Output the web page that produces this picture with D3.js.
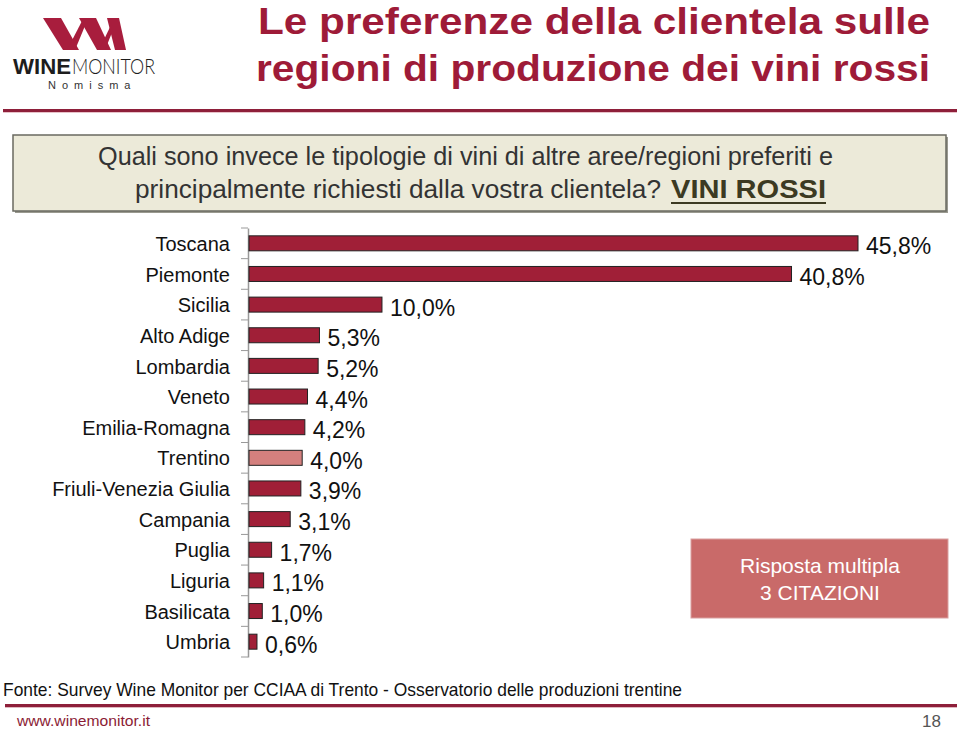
<!DOCTYPE html>
<html>
<head>
<meta charset="utf-8">
<script src="https://cdn.jsdelivr.net/npm/d3@7"></script>
<style>
  html, body { margin: 0; padding: 0; background: #fff; }
  svg { display: block; font-family: "Liberation Sans", Arial, sans-serif; }
</style>
</head>
<body>
<svg id="chart" width="960" height="734"></svg>
<script>
const categories = ["Toscana", "Piemonte", "Sicilia", "Alto Adige", "Lombardia", "Veneto",
  "Emilia-Romagna", "Trentino", "Friuli-Venezia Giulia", "Campania", "Puglia", "Liguria",
  "Basilicata", "Umbria"];
const values = [45.8, 40.8, 10.0, 5.3, 5.2, 4.4, 4.2, 4.0, 3.9, 3.1, 1.7, 1.1, 1.0, 0.6];
const highlighted = ["Trentino"];
const titleLines = ["Le preferenze della clientela sulle", "regioni di produzione dei vini rossi"];
const questionLine1 = "Quali sono invece le tipologie di vini di altre aree/regioni preferiti e";
const questionLine2 = "principalmente richiesti dalla vostra clientela?";
const questionEmph = "VINI ROSSI";
const noteLines = ["Risposta multipla", "3 CITAZIONI"];
const sourceText = "Fonte: Survey Wine Monitor per CCIAA di Trento - Osservatorio delle produzioni trentine";
const footerUrl = "www.winemonitor.it";
const pageNumber = "18";

const svg = d3.select("#chart");
const RED = "#9e1b38";
const fmt = v => v.toFixed(1).replace(".", ",") + "%";

// ---- Logo ----
const logo = svg.append("g");
const logoShapes = [
  [[43,18],[61,18],[79,50],[63,50]],
  [[67,50],[75,50],[87,21],[82,21]],
  [[79,18],[96,18],[111,50],[97,50]],
  [[99,50],[105,50],[115,25],[111,25]],
  [[107,18],[119,18],[126,50],[115,50]]
];
logo.selectAll("polygon").data(logoShapes).join("polygon")
  .attr("points", d => d.map(p => p.join(",")).join(" "))
  .attr("fill", "#a81d3d");
logo.append("text").attr("x", 13).attr("y", 74)
  .attr("font-size", 22).attr("font-weight", "bold").attr("fill", "#1d1d1d")
  .attr("textLength", 58).attr("lengthAdjust", "spacingAndGlyphs").text("WINE");
logo.append("text").attr("x", 72).attr("y", 74)
  .attr("font-size", 22).attr("font-weight", "300").attr("fill", "#1d1d1d")
  .attr("font-family", "Lato, 'Liberation Sans', sans-serif")
  .attr("textLength", 83).attr("lengthAdjust", "spacingAndGlyphs").text("MONITOR");
logo.append("text").attr("x", 48).attr("y", 89).attr("font-size", 11)
  .attr("fill", "#333").attr("letter-spacing", 6).text("Nomisma");

// ---- Title ----
svg.selectAll("text.title").data(titleLines).join("text")
  .attr("class", "title")
  .attr("x", 930).attr("y", (d, i) => 34 + i * 47)
  .attr("text-anchor", "end")
  .attr("font-size", 37).attr("font-weight", "bold").attr("fill", RED)
  .attr("textLength", (d, i) => i === 0 ? 672 : 674)
  .attr("lengthAdjust", "spacingAndGlyphs")
  .text(d => d);

// top rule
svg.append("rect").attr("x", 3).attr("y", 109).attr("width", 954).attr("height", 3).attr("fill", "#8e1f3a");
svg.append("rect").attr("x", 3).attr("y", 112).attr("width", 954).attr("height", 1).attr("fill", "#e8c2c9");

// ---- Question box ----
svg.append("rect").attr("x", 15).attr("y", 137).attr("width", 933).attr("height", 76).attr("fill", "#9a9a90");
svg.append("rect").attr("x", 13).attr("y", 135).attr("width", 933).attr("height", 76)
  .attr("fill", "#ecead9").attr("stroke", "#6a6a60").attr("stroke-width", 1.5);
svg.append("text").attr("x", 98).attr("y", 165).attr("font-size", 25).attr("fill", "#333")
  .attr("textLength", 735).attr("lengthAdjust", "spacingAndGlyphs").text(questionLine1);
svg.append("text").attr("x", 135).attr("y", 198).attr("font-size", 25).attr("fill", "#333")
  .attr("textLength", 526).attr("lengthAdjust", "spacingAndGlyphs").text(questionLine2);
svg.append("text").attr("x", 671).attr("y", 198).attr("font-size", 25).attr("font-weight", "bold")
  .attr("fill", "#3c3a22")
  .attr("textLength", 155).attr("lengthAdjust", "spacingAndGlyphs").text(questionEmph);
svg.append("rect").attr("x", 671).attr("y", 202).attr("width", 155).attr("height", 2).attr("fill", "#3c3a22");

// ---- Bar chart ----
const x = d3.scaleLinear().domain([0, 45.8]).range([249, 858]);
const yStep = d3.scaleBand().domain(categories).range([228, 657]);

const axis = d3.axisLeft(yStep).tickSize(0).tickPadding(18);
const ag = svg.append("g").attr("transform", "translate(248,0)").call(axis);
ag.select(".domain").attr("stroke", "#999").attr("stroke-width", 1.5);
ag.selectAll(".tick text").attr("font-size", 20).attr("fill", "#111")
  .attr("font-family", "'Liberation Sans', Arial, sans-serif").attr("dy", "0.38em");
// boundary tick marks
const bounds = d3.range(categories.length + 1).map(i => 228 + i * yStep.step());
svg.append("g").selectAll("line").data(bounds).join("line")
  .attr("x1", 241).attr("x2", 248).attr("y1", d => d).attr("y2", d => d)
  .attr("stroke", "#999").attr("stroke-width", 1);

const barData = categories.map((c, i) => ({ c, v: values[i] }));
svg.append("g").selectAll("rect").data(barData).join("rect")
  .attr("x", x(0)).attr("y", d => yStep(d.c) + (yStep.step() - 15) / 2)
  .attr("width", d => x(d.v) - x(0)).attr("height", 15)
  .attr("fill", d => highlighted.includes(d.c) ? "#d4807e" : "#a01f37")
  .attr("stroke", "#222").attr("stroke-width", 1);

svg.append("g").selectAll("text").data(barData).join("text")
  .attr("x", d => x(d.v) + 8)
  .attr("y", d => yStep(d.c) + yStep.step() / 2 + 11)
  .attr("font-size", 23).attr("fill", "#111")
  .text(d => fmt(d.v));

// ---- Note box ----
svg.append("rect").attr("x", 691).attr("y", 539).attr("width", 257).attr("height", 79)
  .attr("fill", "#c96a69").attr("stroke", "#d9a0a0").attr("stroke-width", 1);
svg.selectAll("text.note").data(noteLines).join("text").attr("class", "note")
  .attr("x", 820).attr("y", (d, i) => 573 + i * 27)
  .attr("text-anchor", "middle").attr("font-size", 21).attr("fill", "#fff")
  .text(d => d);

// ---- Source & footer ----
svg.append("text").attr("x", 3).attr("y", 696).attr("font-size", 19).attr("fill", "#111")
  .attr("textLength", 679).attr("lengthAdjust", "spacingAndGlyphs").text(sourceText);
svg.append("rect").attr("x", 5).attr("y", 704).attr("width", 952).attr("height", 3).attr("fill", "#8e1f3a");
svg.append("rect").attr("x", 5).attr("y", 707).attr("width", 952).attr("height", 1).attr("fill", "#e0b8c0");
svg.append("text").attr("x", 17).attr("y", 726).attr("font-size", 15).attr("fill", "#8b1c35")
  .attr("textLength", 133).attr("lengthAdjust", "spacingAndGlyphs").text(footerUrl);
svg.append("text").attr("x", 941).attr("y", 727).attr("text-anchor", "end").attr("font-size", 17)
  .attr("fill", "#555").text(pageNumber);
</script>
</body>
</html>
